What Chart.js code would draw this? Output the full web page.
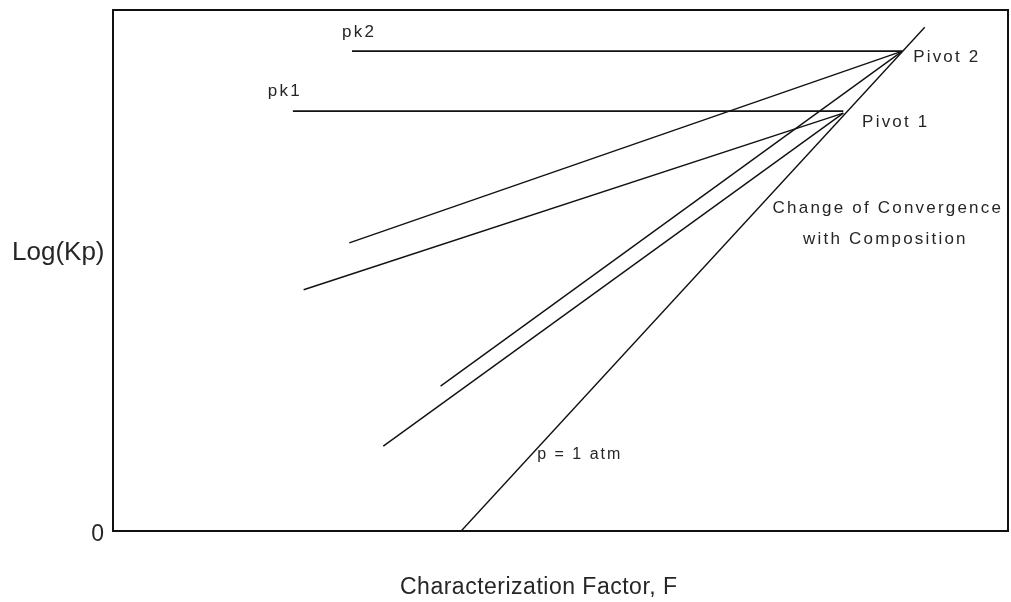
<!DOCTYPE html>
<html>
<head>
<meta charset="utf-8">
<style>
  html, body { margin: 0; padding: 0; background: #fff; }
  #wrap { width: 1011px; height: 602px; position: relative; }
</style>
<script src="https://cdn.jsdelivr.net/npm/chart.js@4/dist/chart.umd.min.js"></script>
</head>
<body>
<div id="wrap"><canvas id="c" width="1011" height="602"></canvas></div>
<script>
// Characterization factor F (x) and Log(Kp) (y), in relative plot units
const pressureLineF   = [38.9, 90.7];   // p = 1 atm
const pressureLineLog = [0.0, 96.7];

const pivot2 = { F: 88.2, logKp: 92.1 };
const pivot1 = { F: 81.6, logKp: 80.2 };

// horizontal pk levels
const pk2F = [26.7, 88.2];
const pk2Log = [92.1, 92.1];
const pk1F = [20.1, 81.6];
const pk1Log = [80.6, 80.6];

// composition lines converging on each pivot (far ends)
const pivot2Ends = [
  { F: 26.4, logKp: 55.3 },
  { F: 36.6, logKp: 27.8 }
];
const pivot1Ends = [
  { F: 21.3, logKp: 46.3 },
  { F: 30.2, logKp: 16.3 }
];

const yTickValues = [0];
const yTickLabels = ['0'];

// annotation texts with anchor points in plot units (left edge, middle)
const notes = [
  { text: 'pk2', F: 25.6, logKp: 95.8 },
  { text: 'pk1', F: 17.3, logKp: 84.3 },
  { text: 'Pivot 2', F: 89.4, logKp: 91.0 },
  { text: 'Pivot 1', F: 83.7, logKp: 78.5 },
  { text: 'Change of Convergence', F: 73.7, logKp: 62.0 },
  { text: 'with Composition', F: 77.1, logKp: 56.0 },
  { text: 'p = 1 atm', F: 47.4, logKp: 14.6, small: true }
];

const xTitle = 'Characterization Factor, F';
const yTitle = 'Log(Kp)';

function seg(xs, ys) {
  return xs.map((x, i) => ({ x: x, y: ys[i] }));
}
function spoke(p, e) {
  return [{ x: e.F, y: e.logKp }, { x: p.F, y: p.logKp }];
}

const lineStyle = {
  borderColor: '#111',
  borderWidth: 1.4,
  pointRadius: 0,
  fill: false,
  tension: 0
};

const datasets = [
  Object.assign({ label: 'p = 1 atm', data: seg(pressureLineF, pressureLineLog) }, lineStyle),
  Object.assign({ label: 'pk2', data: seg(pk2F, pk2Log) }, lineStyle, { borderWidth: 1.8 }),
  Object.assign({ label: 'pk1', data: seg(pk1F, pk1Log) }, lineStyle, { borderWidth: 1.8 }),
  ...pivot2Ends.map((e, i) => Object.assign({ label: 'pivot2-' + i, data: spoke(pivot2, e) }, lineStyle)),
  ...pivot1Ends.map((e, i) => Object.assign({ label: 'pivot1-' + i, data: spoke(pivot1, e) }, lineStyle))
];

const FONT = '"Liberation Sans", Arial, Helvetica, sans-serif';
const TEXT = '#262626';

// frame, tick label, axis titles and text notes
const decorations = {
  id: 'decorations',
  afterDatasetsDraw(chart) {
    const { ctx, chartArea: a, scales } = chart;
    const setSpacing = (v) => { if ('letterSpacing' in ctx) ctx.letterSpacing = v; };
    ctx.save();
    ctx.strokeStyle = '#111';
    ctx.lineWidth = 2;
    ctx.strokeRect(a.left, a.top, a.right - a.left, a.bottom - a.top);

    ctx.fillStyle = TEXT;
    ctx.textBaseline = 'middle';
    ctx.textAlign = 'left';
    notes.forEach(n => {
      if (n.small) { ctx.font = '16px ' + FONT; setSpacing('2px'); }
      else { ctx.font = '17px ' + FONT; setSpacing('2.2px'); }
      ctx.fillText(n.text, scales.x.getPixelForValue(n.F), scales.y.getPixelForValue(n.logKp));
    });

    // y tick labels
    setSpacing('0px');
    ctx.font = '23px ' + FONT;
    ctx.textAlign = 'right';
    yTickValues.forEach((v, i) => {
      ctx.fillText(yTickLabels[i], a.left - 9, scales.y.getPixelForValue(v) + 4);
    });

    setSpacing('0.5px');
    ctx.font = '23px ' + FONT;
    ctx.textAlign = 'left';
    ctx.fillText(xTitle, 400, a.bottom + 57);

    setSpacing('0px');
    ctx.font = '26px ' + FONT;
    ctx.fillText(yTitle, 12, 253);
    ctx.restore();
  }
};

new Chart(document.getElementById('c'), {
  type: 'line',
  data: { datasets: datasets },
  options: {
    responsive: false,
    animation: false,
    events: [],
    layout: { padding: { top: 10, right: 3, left: 0, bottom: 0 } },
    plugins: { legend: { display: false }, tooltip: { enabled: false } },
    scales: {
      x: {
        type: 'linear', min: 0, max: 100,
        grid: { display: false, drawTicks: false },
        border: { display: false },
        ticks: { display: false },
        afterFit(s) { s.height = 71; }
      },
      y: {
        type: 'linear', min: 0, max: 100,
        grid: { display: false, drawTicks: false },
        border: { display: false },
        ticks: { display: false },
        afterFit(s) { s.width = 113; }
      }
    }
  },
  plugins: [decorations]
});
</script>
</body>
</html>
